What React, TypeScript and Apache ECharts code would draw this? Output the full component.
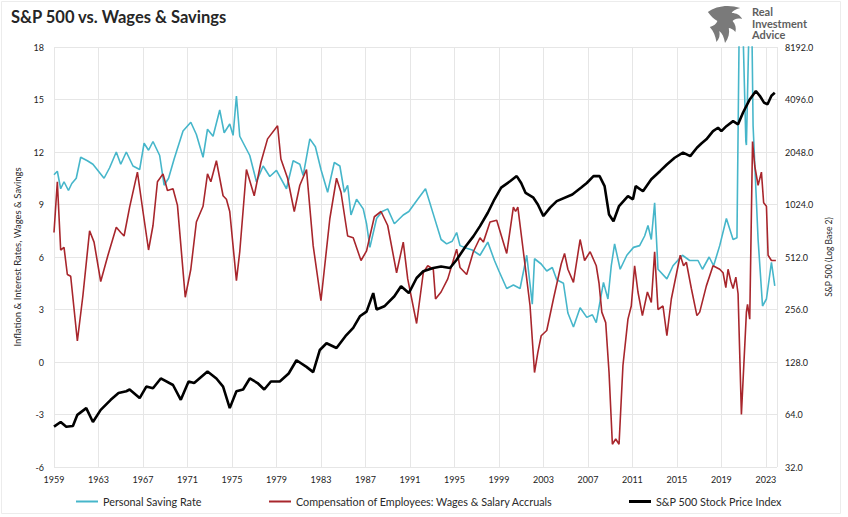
import React, { useEffect, useRef } from "react";
import * as echarts from "echarts";

const BASE_YEAR = 1959;
const xTickYears = [1959, 1963, 1967, 1971, 1975, 1979, 1983, 1987, 1991, 1995, 1999, 2003, 2007, 2011, 2015, 2019, 2023];
const leftTicks = [-6, -3, 0, 3, 6, 9, 12, 15, 18];
const rightTicks = [32, 64, 128, 256, 512, 1024, 2048, 4096, 8192];

// Personal Saving Rate (%)
const savingYears = [
  1959.0, 1959.3, 1959.6, 1959.9, 1960.3, 1960.6, 1961.0, 1961.4, 1962.0, 1962.5, 1963.0, 1963.5, 1964.0, 1964.6, 1965.0, 1965.5,
  1966.1, 1966.7, 1967.1, 1967.5, 1967.9, 1968.5, 1968.9, 1969.3, 1969.8, 1970.6, 1971.3, 1971.8, 1972.4, 1972.8, 1973.3, 1973.9,
  1974.3, 1974.8, 1975.1, 1975.4, 1975.7, 1976.6, 1977.2, 1977.8, 1978.4, 1979.0, 1979.9, 1980.5, 1981.1, 1981.4, 1982.0, 1982.5,
  1983.0, 1983.6, 1984.2, 1984.7, 1985.1, 1985.4, 1985.7, 1986.2, 1986.8, 1987.1, 1987.4, 1988.0, 1988.5, 1989.0, 1989.6, 1990.4,
  1990.9, 1991.7, 1992.4, 1993.1, 1993.8, 1994.3, 1994.8, 1995.2, 1995.5, 1996.1, 1996.6, 1997.3, 1998.0, 1998.6, 1999.0, 1999.7,
  2000.3, 2000.9, 2001.5, 2002.0, 2002.2, 2002.8, 2003.3, 2003.8, 2004.2, 2004.8, 2005.2, 2005.7, 2006.3, 2006.9, 2007.4, 2007.75,
  2008.4, 2008.8, 2009.1, 2009.4, 2009.9, 2010.5, 2011.1, 2011.65, 2012.1, 2012.4, 2012.7, 2013.0, 2013.3, 2014.1, 2014.65, 2015.5,
  2016.15, 2016.9, 2017.3, 2017.9, 2018.3, 2018.85, 2019.45, 2020.05, 2020.4, 2020.7, 2021.2, 2021.25, 2021.65, 2021.85, 2022.3, 2022.7,
  2023.05, 2023.5, 2023.8,
];
const savingRate = [
  10.7, 10.9, 9.9, 10.3, 9.8, 10.2, 10.5, 11.7, 11.5, 11.3, 10.9, 10.5, 11.1, 12.0, 11.3, 12.0,
  11.2, 11.0, 12.5, 12.1, 12.6, 11.8, 10.1, 10.5, 11.6, 13.2, 13.7, 13.0, 11.7, 13.3, 12.9, 14.4,
  13.1, 13.6, 12.95, 15.2, 12.9, 11.8, 10.3, 11.2, 10.6, 10.95, 9.9, 11.5, 11.3, 10.65, 12.75, 12.3,
  11.0, 9.7, 11.4, 11.2, 9.7, 10.1, 8.4, 9.3, 8.75, 7.9, 6.55, 8.2, 8.6, 8.75, 7.9, 8.4,
  8.6, 9.3, 9.9, 8.45, 7.0, 6.75, 6.9, 7.4, 6.65, 6.5, 6.4, 6.1, 6.85, 5.8, 5.2, 4.2,
  4.4, 4.2, 6.1, 3.3, 5.9, 5.6, 5.2, 5.4, 4.7, 4.5, 2.8, 2.0, 3.1, 2.55, 2.7, 2.25,
  4.55, 3.6, 5.5, 6.75, 5.3, 6.1, 6.55, 6.65, 7.2, 7.8, 7.0, 9.1, 5.3, 4.75, 5.5, 6.1,
  5.8, 5.8, 5.3, 6.0, 5.5, 6.65, 8.2, 7.0, 7.1, 25.0, 12.6, 12.4, 24.0, 13.5, 7.0, 3.2,
  3.6, 5.7, 4.35,
];

// Compensation of Employees: Wages & Salary Accruals (% y/y)
const wagesYears = [
  1959.0, 1959.3, 1959.6, 1959.9, 1960.2, 1960.5, 1961.1, 1961.6, 1962.2, 1962.6, 1963.2, 1963.85, 1964.6, 1965.0, 1965.3, 1965.8,
  1966.5, 1967.0, 1967.5, 1967.9, 1968.3, 1968.8, 1969.2, 1969.7, 1970.1, 1970.8, 1971.3, 1971.8, 1972.4, 1972.8, 1973.1, 1973.6,
  1974.2, 1974.5, 1974.8, 1975.4, 1975.7, 1976.3, 1977.0, 1977.6, 1978.2, 1979.1, 1979.4, 1980.0, 1980.6, 1981.1, 1981.7, 1982.3,
  1983.0, 1983.8, 1984.4, 1984.8, 1985.4, 1985.9, 1986.6, 1987.1, 1987.8, 1988.4, 1989.0, 1989.8, 1990.4, 1990.8, 1991.6, 1992.2,
  1992.6, 1993.1, 1993.3, 1993.8, 1994.4, 1995.2, 1995.5, 1996.1, 1996.7, 1997.3, 1997.6, 1998.2, 1998.8, 1999.7, 2000.3, 2000.5,
  2000.7, 2001.2, 2001.8, 2002.2, 2002.5, 2002.8, 2003.3, 2003.9, 2004.6, 2004.9, 2005.2, 2005.7, 2006.3, 2006.7, 2007.2, 2007.75,
  2008.0, 2008.25, 2008.6, 2008.9, 2009.2, 2009.5, 2009.8, 2010.15, 2010.6, 2010.9, 2011.2, 2011.5, 2011.9, 2012.35, 2012.7, 2013.0,
  2013.3, 2013.75, 2014.1, 2014.5, 2015.3, 2015.6, 2015.85, 2016.3, 2016.8, 2017.05, 2017.65, 2018.25, 2018.85, 2019.15, 2019.4, 2019.6,
  2019.85, 2020.05, 2020.3, 2020.5, 2020.8, 2021.25, 2021.35, 2021.55, 2021.8, 2022.0, 2022.3, 2022.6, 2022.8, 2023.05, 2023.2, 2023.5,
  2023.9,
];
const wagesGrowth = [
  7.4, 10.3, 6.4, 6.55, 5.0, 4.9, 1.2, 3.8, 7.5, 6.85, 4.6, 6.1, 7.7, 7.4, 7.2, 8.85,
  10.85, 8.6, 6.4, 7.8, 10.3, 10.75, 9.8, 9.9, 8.95, 3.7, 5.3, 8.0, 8.9, 10.75, 10.3, 11.5,
  9.5, 9.3, 8.6, 4.65, 6.3, 11.0, 9.5, 11.4, 12.75, 13.5, 11.6, 10.5, 8.6, 10.1, 11.0, 6.65,
  3.5, 8.2, 10.5, 9.7, 7.2, 7.1, 5.8, 6.35, 8.3, 8.6, 7.8, 5.1, 6.85, 4.75, 2.2, 5.1,
  5.5, 5.3, 3.6, 4.0, 4.75, 6.45, 5.4, 5.0, 6.3, 7.1, 6.85, 8.0, 8.1, 6.2, 8.85, 8.6,
  8.85, 6.3, 3.2, -0.6, 0.55, 1.5, 1.8, 3.6, 5.6, 6.2, 5.3, 4.55, 7.0, 5.8, 6.3, 5.5,
  4.5, 2.85, 2.25, -0.6, -4.7, -4.4, -4.7, -0.2, 2.45, 3.2, 5.5, 4.0, 2.65, 4.0, 3.4, 6.3,
  3.0, 3.2, 1.5, 3.6, 6.1, 5.5, 5.7, 4.2, 2.65, 2.85, 4.35, 5.5, 5.3, 5.1, 4.25, 5.3,
  4.6, 4.2, 4.85, 3.9, -3.0, 2.85, 3.3, 2.45, 12.6, 11.2, 10.1, 10.85, 9.1, 8.9, 6.1, 5.8,
  5.8,
];

// S&P 500 Stock Price Index (log base 2 axis)
const spxYears = [
  1959.0, 1959.6, 1960.1, 1960.7, 1961.1, 1961.9, 1962.5, 1963.2, 1964.1, 1964.8, 1965.5, 1965.8, 1966.7, 1967.3, 1967.9, 1968.6,
  1969.7, 1970.4, 1971.1, 1971.6, 1972.8, 1973.6, 1974.2, 1974.8, 1975.4, 1976.0, 1976.6, 1977.3, 1977.9, 1978.5, 1979.3, 1980.1,
  1980.8, 1981.7, 1982.3, 1982.9, 1983.5, 1984.4, 1985.2, 1985.9, 1986.5, 1987.1, 1987.7, 1988.0, 1988.7, 1989.6, 1990.2, 1990.9,
  1991.6, 1992.2, 1993.1, 1993.8, 1994.6, 1995.2, 1996.0, 1996.7, 1997.3, 1998.0, 1998.6, 1999.2, 2000.0, 2000.6, 2001.0, 2001.4,
  2002.1, 2002.5, 2003.0, 2003.6, 2004.2, 2005.6, 2006.4, 2006.9, 2007.5, 2008.05, 2008.5, 2008.9, 2009.3, 2009.8, 2010.6, 2011.05,
  2011.3, 2011.95, 2012.7, 2013.5, 2014.1, 2014.8, 2015.55, 2016.2, 2016.8, 2017.2, 2017.65, 2018.25, 2018.7, 2019.0, 2019.45, 2020.05,
  2020.5, 2020.95, 2021.55, 2022.1, 2022.45, 2022.85, 2023.15, 2023.5, 2023.8,
];
const spxPrice = [
  54.5, 58, 54.5, 55, 63.7, 69.6, 58, 68, 77.7, 85, 87, 89, 79.5, 92.5, 90.5, 103,
  94.5, 77.7, 99, 97, 113, 103, 92.5, 69.6, 87, 89, 103, 97, 89, 99, 99, 110,
  131, 120, 112, 150, 164, 154, 180, 201, 234, 249, 318, 256, 267, 305, 348, 318,
  388, 424, 443, 452, 443, 494, 588, 672, 770, 918, 1097, 1280, 1392, 1490, 1360, 1193,
  1120, 1024, 879, 982, 1070, 1168, 1280, 1360, 1490, 1490, 1305, 898, 821, 1003, 1144, 1097,
  1305, 1220, 1428, 1595, 1735, 1898, 2030, 1938, 2166, 2290, 2420, 2700, 2820, 2700, 2880, 3080,
  2950, 3450, 4100, 4580, 4300, 3920, 3850, 4300, 4480,
];

const toPairs = (xs: number[], ys: number[]) => xs.map((x, i) => [x - BASE_YEAR, ys[i]]);

const FONT = "Lato, 'Open Sans', sans-serif";

const EAGLE =
  "M2 8 C10 2 24 0 36 4 C31 5 28 7 27 9 C32 9 36 11 38 15 C33 14 30 15 28 17 C31 20 32 24 31 28 C28 25 26 24 24 24 C25 29 24 34 20 39 C19 33 17 29 14 27 C15 31 14 35 11 38 C10 32 8 27 4 23 C8 22 11 20 12 17 C8 15 5 12 2 8 Z";

export default function App() {
  const ref = useRef<HTMLDivElement>(null);
  useEffect(() => {
    if (!ref.current) return;
    try {
      echarts.graphic.registerShape("eagleLogo", echarts.graphic.extendPath(EAGLE, {}));
    } catch (e) {}
    const chart = echarts.init(ref.current, null, { renderer: "svg" });
    const legendText = { fontFamily: FONT, fontSize: 10.8, color: "#2a2a2a" };
    const logoText = { fontFamily: FONT, fontSize: 11, lineHeight: 11, fontWeight: "bold", fill: "#5f5f5f" };
    chart.setOption({
      animation: false,
      backgroundColor: "#ffffff",
      textStyle: { fontFamily: FONT },
      grid: { left: 54, right: 71, top: 47, bottom: 50, containLabel: false },
      graphic: [
        {
          type: "rect",
          shape: { x: 1.5, y: 1.5, width: 839, height: 512 },
          style: { fill: "none", stroke: "#ececec", lineWidth: 1 },
          silent: true,
        },
        {
          type: "text",
          left: 11,
          top: 8,
          style: { text: "S&P 500 vs. Wages & Savings", fontFamily: FONT, fontSize: 16.5, fontWeight: "bold", fill: "#262626" },
        },
        {
          type: "eagleLogo",
          x: 706,
          y: 4,
          scaleX: 0.95,
          scaleY: 1.0,
          style: { fill: "#7a7a7a" },
        },
        { type: "text", left: 752, top: 6, style: { ...logoText, text: "Real" } },
        { type: "text", left: 752, top: 17.5, style: { ...logoText, text: "Investment" } },
        { type: "text", left: 752, top: 29, style: { ...logoText, text: "Advice" } },
      ],
      legend: [
        {
          data: [{ name: "Personal Saving Rate", icon: "rect" }],
          left: 71,
          top: 491,
          itemWidth: 22,
          itemHeight: 2,
          textStyle: legendText,
        },
        {
          data: [{ name: "Compensation of Employees: Wages & Salary Accruals", icon: "rect" }],
          left: 264,
          top: 491,
          itemWidth: 22,
          itemHeight: 2,
          textStyle: legendText,
        },
        {
          data: [{ name: "S&P 500 Stock Price Index", icon: "rect" }],
          left: 624,
          top: 491,
          itemWidth: 22,
          itemHeight: 3,
          textStyle: legendText,
        },
      ],
      xAxis: {
        type: "value",
        min: 0,
        max: 65,
        interval: 4,
        axisLine: { show: false },
        axisTick: { show: false },
        splitLine: { show: true, lineStyle: { color: "#e6e6e6", width: 1 } },
        axisLabel: {
          fontFamily: FONT,
          fontSize: 9,
          color: "#222",
          margin: 8,
          formatter: (v: number) => {
            const y = BASE_YEAR + v;
            return xTickYears.includes(y) ? String(y) : "";
          },
        },
      },
      yAxis: [
        {
          type: "value",
          min: leftTicks[0],
          max: leftTicks[leftTicks.length - 1],
          interval: 3,
          position: "left",
          axisLine: { show: false },
          axisTick: { show: false },
          splitLine: { show: true, lineStyle: { color: "#e6e6e6", width: 1 } },
          axisLabel: { fontFamily: FONT, fontSize: 9, color: "#222", margin: 10 },
          name: "Inflation & Interest Rates, Wages & Savings",
          nameLocation: "middle",
          nameGap: 24,
          nameTextStyle: { fontFamily: FONT, fontSize: 9.5, color: "#2a2a2a" },
        },
        {
          type: "log",
          logBase: 2,
          min: rightTicks[0],
          max: rightTicks[rightTicks.length - 1],
          splitNumber: 8,
          position: "right",
          axisLine: { show: false },
          axisTick: { show: false },
          splitLine: { show: false },
          axisLabel: {
            fontFamily: FONT,
            fontSize: 9,
            color: "#222",
            margin: 8,
            formatter: (v: number) => Number(v).toFixed(1),
          },
          name: "S&P 500 (Log Base 2)",
          nameLocation: "middle",
          nameGap: 43,
          nameTextStyle: { fontFamily: FONT, fontSize: 8.5, color: "#2a2a2a" },
        },
      ],
      series: [
        {
          name: "Personal Saving Rate",
          type: "line",
          yAxisIndex: 0,
          showSymbol: false,
          symbol: "none",
          clip: true,
          data: toPairs(savingYears, savingRate),
          lineStyle: { color: "#46b6ca", width: 1.6 },
          itemStyle: { color: "#46b6ca" },
          z: 2,
        },
        {
          name: "Compensation of Employees: Wages & Salary Accruals",
          type: "line",
          yAxisIndex: 0,
          showSymbol: false,
          symbol: "none",
          clip: true,
          data: toPairs(wagesYears, wagesGrowth),
          lineStyle: { color: "#a8262c", width: 1.6 },
          itemStyle: { color: "#a8262c" },
          z: 3,
        },
        {
          name: "S&P 500 Stock Price Index",
          type: "line",
          yAxisIndex: 1,
          showSymbol: false,
          symbol: "none",
          clip: true,
          data: toPairs(spxYears, spxPrice),
          lineStyle: { color: "#000000", width: 2.6 },
          itemStyle: { color: "#000000" },
          z: 4,
        },
      ],
    });
    return () => chart.dispose();
  }, []);
  return (
    <div
      ref={ref}
      style={{ position: "absolute", left: 0, top: 0, width: 848, height: 517, background: "#fff" }}
    />
  );
}
